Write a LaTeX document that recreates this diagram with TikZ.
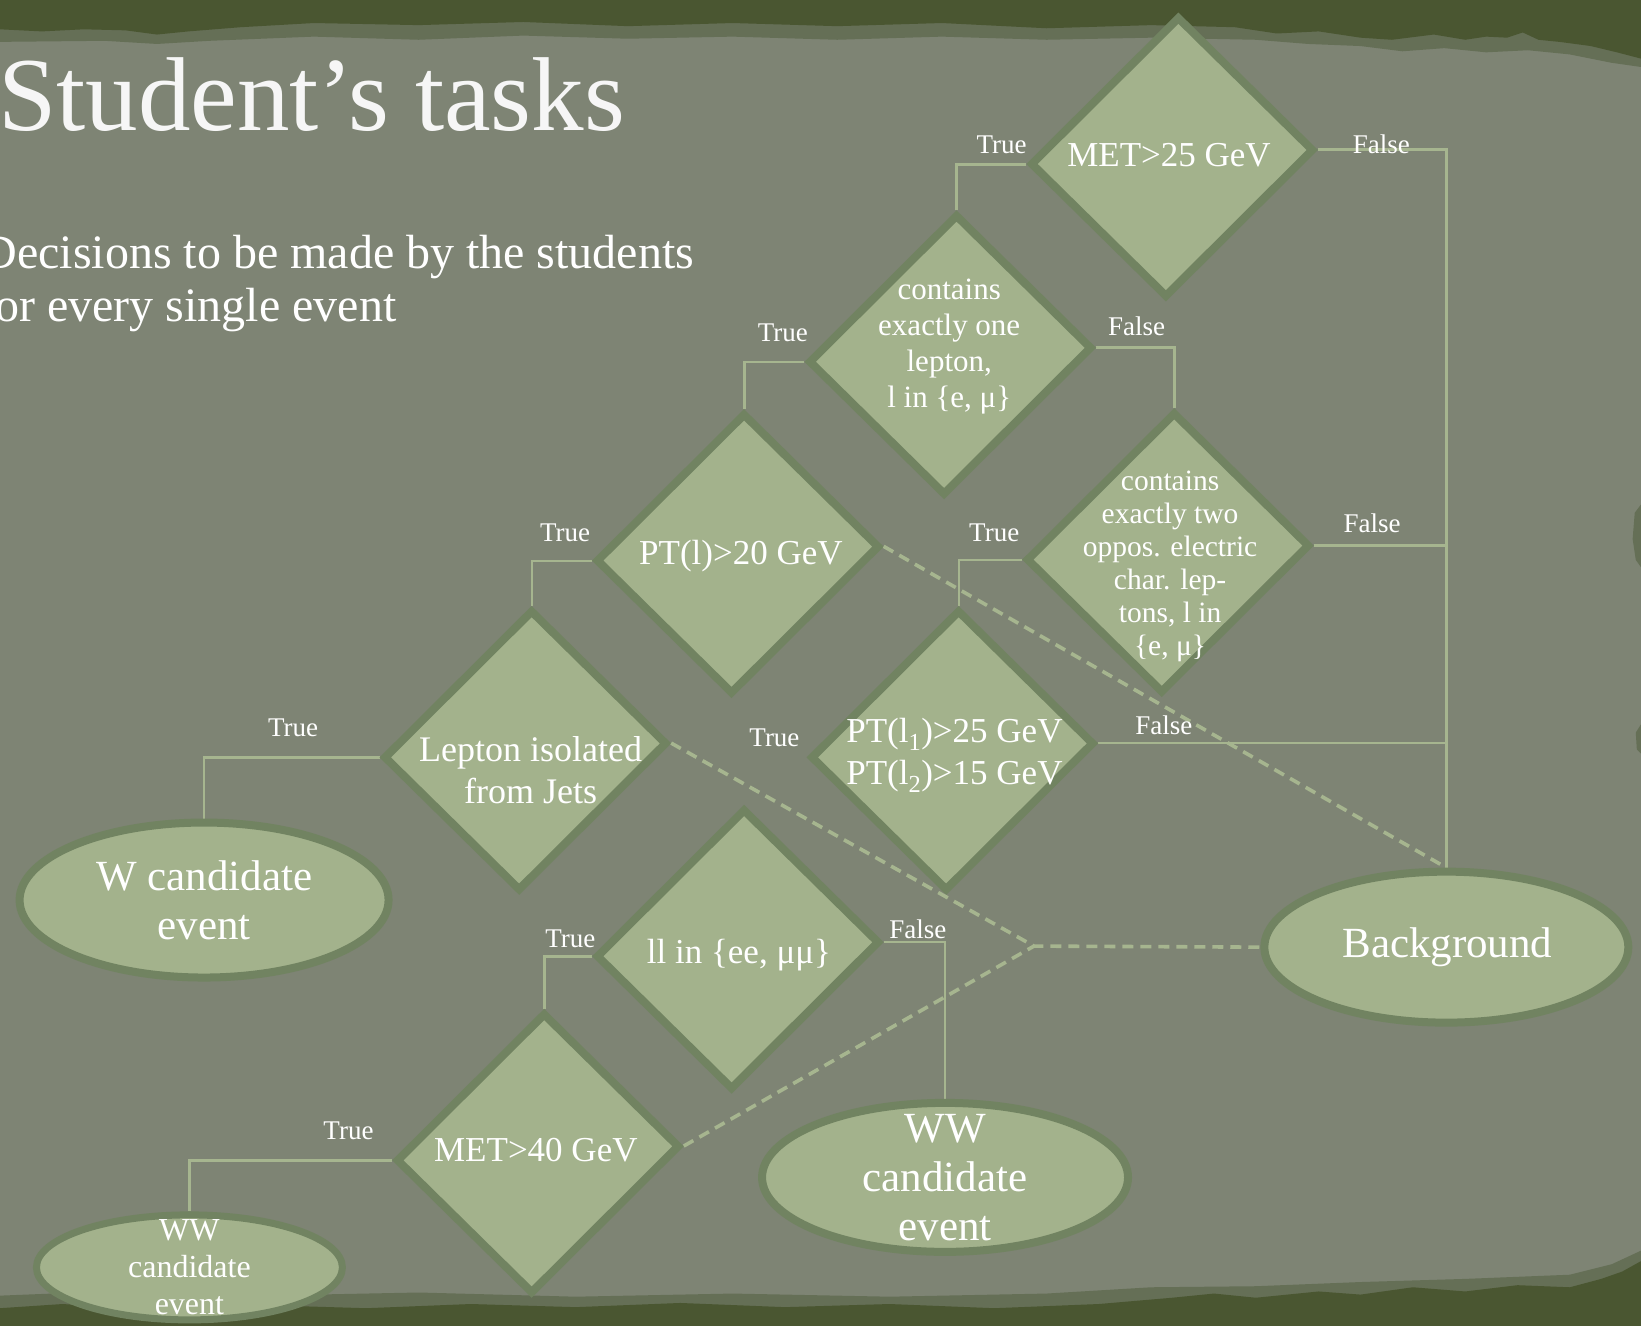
\documentclass[tikz,border=0pt]{standalone}
\usepackage{fontspec}
\setmainfont{Liberation Serif}
\usetikzlibrary{shapes.geometric}
\definecolor{bgc}{HTML}{7E8474}
\definecolor{edgec}{HTML}{4A5631}
\definecolor{edgemid}{HTML}{656F56}
\definecolor{dfill}{HTML}{A3B28C}
\definecolor{dborder}{HTML}{718361}
\definecolor{connc}{HTML}{A6B58F}
\pgfdeclarelayer{back}
\pgfdeclarelayer{links}
\pgfsetlayers{back,links,main}
\tikzset{
  dec/.style={diamond, draw=dborder, fill=dfill, line width=8pt,
    minimum width=283pt, minimum height=281pt, inner sep=0pt,
    xslant=0.045, yslant=0.05, transform shape},
  term/.style={ellipse, draw=dborder, fill=dfill, line width=8pt, inner sep=0pt},
  dtext/.style={text=white, align=center, inner sep=0pt},
  lbl/.style={text=white, font=\fontsize{27}{30}\selectfont, inner sep=0pt},
  link/.style={draw=connc, line width=2.6pt},
  dlink/.style={draw=connc, line width=3.6pt, dash pattern=on 11pt off 7pt},
}
\begin{document}
\begin{tikzpicture}[x=1.0466pt,y=-1.0466pt]
\useasboundingbox (0,0) rectangle (1568,1267);
\begin{pgfonlayer}{back}
  \fill[bgc] (0,0) rectangle (1568,1267);
  % top torn edge
  \fill[edgemid] (0,0) -- (1568,0) -- (1568,64) -- (1540,60) -- (1500,52) -- (1460,48)
    -- (1420,50) -- (1380,46) -- (1340,49) -- (1300,44) -- (1250,42) -- (1200,38)
    -- (1100,36) -- (1000,38) -- (900,35) -- (800,38) -- (700,35) -- (600,37)
    -- (500,34) -- (400,38) -- (300,35) -- (200,39) -- (150,42) -- (100,39) -- (0,40) -- cycle;
  \fill[edgec] (0,0) -- (1568,0) -- (1568,56) -- (1545,50) -- (1520,44) -- (1490,40)
    -- (1470,38) -- (1455,31) -- (1440,36) -- (1420,35) -- (1400,38) -- (1370,33)
    -- (1330,38) -- (1300,36) -- (1260,30) -- (1220,32) -- (1180,26) -- (1100,24)
    -- (1000,27) -- (900,22) -- (800,25) -- (700,22) -- (600,25) -- (500,21)
    -- (400,24) -- (300,22) -- (230,26) -- (180,30) -- (150,33) -- (120,29)
    -- (80,28) -- (40,30) -- (0,28) -- cycle;
  % bottom torn edge
  \fill[edgemid] (0,1267) -- (0,1238) -- (100,1234) -- (250,1238) -- (400,1235)
    -- (550,1239) -- (700,1236) -- (850,1239) -- (1000,1236) -- (1100,1230)
    -- (1200,1229) -- (1300,1225) -- (1400,1222) -- (1500,1218) -- (1540,1208)
    -- (1568,1195) -- (1568,1267) -- cycle;
  \fill[edgec] (0,1267) -- (0,1250) -- (60,1246) -- (150,1252) -- (250,1247)
    -- (350,1250) -- (450,1246) -- (550,1249) -- (650,1245) -- (750,1249)
    -- (850,1246) -- (950,1250) -- (1050,1246) -- (1120,1240) -- (1160,1236)
    -- (1200,1240) -- (1260,1234) -- (1300,1237) -- (1350,1230) -- (1400,1234)
    -- (1450,1228) -- (1500,1230) -- (1530,1222) -- (1550,1215) -- (1568,1205)
    -- (1568,1267) -- cycle;
  % right edge blemishes
  \fill[edgemid] (1568,482) -- (1562,490) -- (1560,515) -- (1563,535) -- (1568,542) -- cycle;
  \fill[edgemid] (1568,692) -- (1563,700) -- (1564,716) -- (1568,720) -- cycle;
\end{pgfonlayer}

% title and subtitle
\node[anchor=base west, text=white!93!gray, font=\fontsize{105}{110}\selectfont, inner sep=0pt]
  (title) at (-2,125) {Student’s tasks};
\node[anchor=base west, text=white, font=\fontsize{48}{52}\selectfont, inner sep=0pt]
  (sub1) at (-17,257) {Decisions to be made by the students};
\node[anchor=base west, text=white, font=\fontsize{48}{52}\selectfont, inner sep=0pt]
  (sub2) at (-20,307) {for every single event};

% decision diamonds
\node[dec] (d1) at (1120,150) {};
\node[dec] (d2) at (908,339) {};
\node[dec] (d3) at (1116,528) {};
\node[dec] (d4) at (705,529) {};
\node[dec] (d5) at (910,717) {};
\node[dec] (d6) at (502,717) {};
\node[dec] (d7) at (705,907) {};
\node[dec] (d8) at (514,1102) {};

\node[dtext, font=\fontsize{35}{40}\selectfont] (t1) at (1117,148) {MET>25 GeV};
\node[dtext, font=\fontsize{31}{36}\selectfont] (t2) at (907,331) {contains\\exactly one\\lepton,\\l in \{e, μ\}};
\node[dtext, font=\fontsize{29.5}{33}\selectfont] (t3) at (1118,541) {contains\\exactly two\\oppos. electric\\char. lep-\\tons, l in\\\{e, μ\}};
\node[dtext, font=\fontsize{35}{40}\selectfont] (t4) at (708,531) {PT(l)>20 GeV};
\node[dtext, font=\fontsize{35}{42}\selectfont] (t5) at (912,722) {PT(l\textsubscript{1})>25 GeV\\PT(l\textsubscript{2})>15 GeV};
\node[dtext, font=\fontsize{36}{42}\selectfont] (t6) at (507,736) {Lepton isolated\\from Jets};
\node[dtext, font=\fontsize{35}{40}\selectfont] (t7) at (706,913) {ll in \{ee, μμ\}};
\node[dtext, font=\fontsize{35}{40}\selectfont] (t8) at (512,1099) {MET>40 GeV};

% terminal ellipses
\node[term, minimum width=369pt, minimum height=155pt] (ew) at (195,860) {};
\node[term, minimum width=364pt, minimum height=151pt] (bg) at (1382,905) {};
\node[term, minimum width=366pt, minimum height=149pt] (ww1) at (903,1125) {};
\node[term, minimum width=306pt, minimum height=105pt, line width=7pt] (ww2) at (181,1211) {};

\node[dtext, font=\fontsize{43}{49}\selectfont] (ewt) at (195,860) {W candidate\\event};
\node[dtext, font=\fontsize{43}{49}\selectfont] (bgt) at (1383,905) {Background};
\node[dtext, font=\fontsize{43}{49}\selectfont] (ww1t) at (903,1125) {WW\\candidate\\event};
\node[dtext, font=\fontsize{32}{37}\selectfont] (ww2t) at (181,1211) {WW\\candidate\\event};

% solid connectors
\begin{pgfonlayer}{links}
\draw[link] (d1.west) -| (d2.north);
\draw[link] (d1.east) -| (bg.north);
\draw[link] (d2.west) -| (d4.north);
\draw[link] (d2.east) -| (d3.north);
\draw[link] (d3.east) -- (d3.east -| bg.north);
\draw[link] (d3.west) -| (d5.north);
\draw[link] (d4.west) -| (d6.north);
\draw[link] (d5.east) -- (d5.east -| bg.north);
\draw[link] (d6.west) -| (ew.north);
\draw[link] (d7.west) -| (d8.north);
\draw[link] (d7.east) -| (ww1.north);
\draw[link] (d8.west) -| (ww2.north);
\end{pgfonlayer}

% dashed connectors
\coordinate (mg) at (988,904);
\draw[dlink] (d4.east) -- (bg.north);
\draw[dlink] (d6.east) -- (mg) -- (bg.west);
\draw[dlink] (d8.east) -- (mg);

% branch labels
\node[lbl] (l1) at (957,138) {True};
\node[lbl] (l2) at (1320,138) {False};
\node[lbl] (l3) at (748,318) {True};
\node[lbl] (l4) at (1086,312) {False};
\node[lbl] (l5) at (950,509) {True};
\node[lbl] (l6) at (1311,500) {False};
\node[lbl] (l7) at (540,509) {True};
\node[lbl] (l8) at (740,705) {True};
\node[lbl] (l9) at (1112,693) {False};
\node[lbl] (l10) at (280,695) {True};
\node[lbl] (l11) at (545,897) {True};
\node[lbl] (l12) at (877,888) {False};
\node[lbl] (l13) at (333,1080) {True};
\end{tikzpicture}
\end{document}
